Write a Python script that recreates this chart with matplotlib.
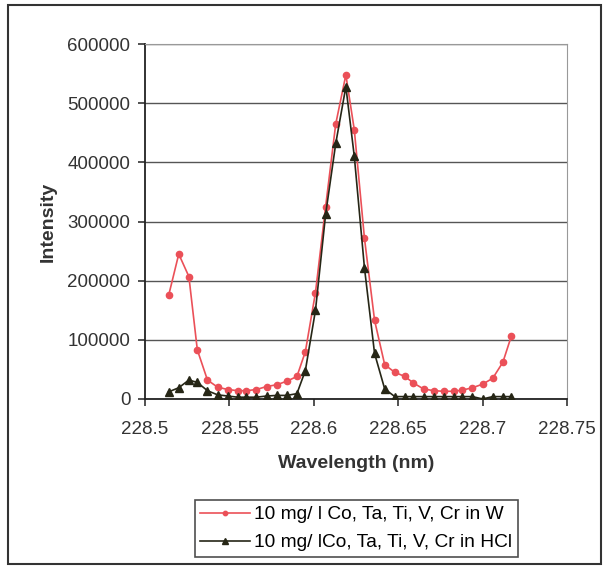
import matplotlib
matplotlib.use("Agg")
import matplotlib.pyplot as plt
from matplotlib.patches import Rectangle

plt.rcParams['font.family'] = ['Liberation Sans', 'DejaVu Sans']

wavelength = [228.514, 228.520, 228.526, 228.531, 228.537, 228.543, 228.549, 228.555,
              228.560, 228.566, 228.572, 228.578, 228.584, 228.590, 228.595, 228.601,
              228.607, 228.613, 228.619, 228.624, 228.630, 228.636, 228.642, 228.648,
              228.654, 228.659, 228.665, 228.671, 228.677, 228.683, 228.688, 228.694,
              228.700, 228.706, 228.712, 228.717]

in_w = [175000, 245000, 207000, 83000, 32000, 20000, 16000, 14000,
        14000, 16000, 21000, 24000, 30000, 38000, 80000, 180000,
        325000, 465000, 548000, 455000, 272000, 133000, 58000, 45000,
        38000, 27000, 17000, 14000, 13000, 13000, 15000, 19000,
        25000, 35000, 62000, 106000]

in_hcl = [12000, 19000, 32000, 28000, 14000, 7000, 5000, 3000,
          3000, 3000, 5000, 6000, 6000, 9000, 48000, 150000,
          312000, 432000, 528000, 410000, 222000, 77000, 17000, 4000,
          4000, 4000, 4000, 4000, 4000, 4000, 4000, 4000,
          0, 4000, 4000, 4000]

labels = ["10 mg/ l Co, Ta, Ti, V, Cr in W", "10 mg/ lCo, Ta, Ti, V, Cr in HCl"]

fig = plt.figure(figsize=(6.1, 5.66), dpi=100)
ax = fig.add_axes([0.2377, 0.2951, 0.6918, 0.627])

ax.plot(wavelength, in_w, color='#eb5058', lw=1.2, marker='o', ms=4.5,
        label=labels[0], zorder=3)
ax.plot(wavelength, in_hcl, color='#262616', lw=1.2, marker='^', ms=5.5,
        label=labels[1], zorder=4)

ax.set_xlim(228.5, 228.75)
ax.set_ylim(0, 600000)
ax.set_xticks([228.5, 228.55, 228.6, 228.65, 228.7, 228.75])
ax.set_xticklabels(['228.5', '228.55', '228.6', '228.65', '228.7', '228.75'])
ax.set_yticks(range(0, 600001, 100000))
ax.set_yticklabels([str(v) for v in range(0, 600001, 100000)])
ax.tick_params(labelsize=13.5, colors='#333333', length=5, width=1.2, direction='out')
ax.tick_params(axis='x', pad=11)
ax.tick_params(axis='y', pad=5.5)

ax.grid(axis='y', color='#555555', lw=1.0)
ax.set_axisbelow(True)
for s in ['top', 'right']:
    ax.spines[s].set_color('#999999')
for s in ['left', 'bottom']:
    ax.spines[s].set_color('#222222')
    ax.spines[s].set_linewidth(1.3)

ax.set_xlabel('Wavelength (nm)', fontsize=14, fontweight='bold', color='#333333', labelpad=12)
ax.set_ylabel('Intensity', fontsize=14, fontweight='bold', color='#333333', labelpad=8)

leg = fig.legend(loc='center', bbox_to_anchor=(0.584, 0.066), fontsize=13.8,
                 frameon=True, fancybox=False, handlelength=2.6, handletextpad=0.2,
                 borderpad=0.3, labelspacing=0.55, borderaxespad=0, markerscale=0.7)
leg.get_frame().set_edgecolor('#222222')
leg.get_frame().set_linewidth(1.2)

fig.patches.append(Rectangle((0.013, 0.004), 0.972, 0.988, transform=fig.transFigure,
                             fill=False, edgecolor='#333333', lw=1.5))

fig.savefig('out.png', dpi=100)
